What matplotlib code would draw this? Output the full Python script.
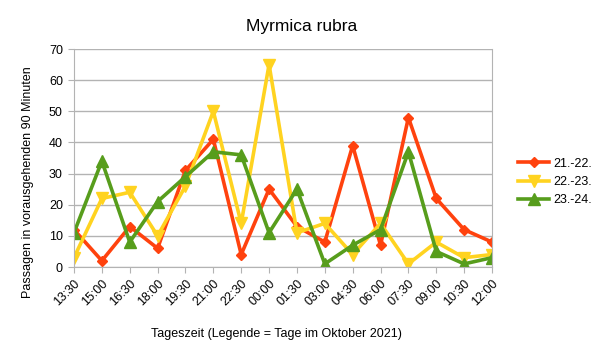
import matplotlib
matplotlib.use("Agg")
import matplotlib.pyplot as plt

plt.rcParams['font.family'] = ['Liberation Sans', 'DejaVu Sans']

categories = ["13:30", "15:00", "16:30", "18:00", "19:30", "21:00", "22:30", "00:00",
              "01:30", "03:00", "04:30", "06:00", "07:30", "09:00", "10:30", "12:00"]
s21 = [12, 2, 13, 6, 31, 41, 4, 25, 13, 8, 39, 7, 48, 22, 12, 8]
s22 = [3, 22, 24, 10, 26, 50, 14, 65, 11, 14, 4, 14, 1, 8, 3, 4]
s23 = [11, 34, 8, 21, 29, 37, 36, 11, 25, 1, 7, 12, 37, 5, 1, 3]
labels = ["21.-22.", "22.-23.", "23.-24."]

fig = plt.figure(figsize=(6.05, 3.61), dpi=100)
ax = fig.add_axes([74/605, 1-267/361, (492-74)/605, (267-49)/361])
x = list(range(len(categories)))
ax.plot(x, s21, color="#ff420e", lw=2.6, marker="D", ms=5.5, label=labels[0])
ax.plot(x, s22, color="#ffd320", lw=2.6, marker="v", ms=8, label=labels[1])
ax.plot(x, s23, color="#579d1c", lw=2.6, marker="^", ms=8, label=labels[2])

ax.set_xlim(0, len(categories)-1)
ax.set_ylim(0, 70)
ax.set_yticks(range(0, 71, 10))
ax.set_xticks(x)
ax.set_xticklabels(categories, rotation=45, ha="right", rotation_mode="anchor")
ax.yaxis.grid(True, color="#b3b3b3", lw=1)
ax.set_axisbelow(True)
for sp in ax.spines.values():
    sp.set_color("#b3b3b3")
ax.spines['top'].set_visible(False)
ax.tick_params(axis='y', length=4, color="#b3b3b3", labelsize=9, pad=4)
ax.tick_params(axis='x', length=4, color="#b3b3b3", labelsize=9)
fig.text(302/605, 1-27/361, "Myrmica rubra", ha="center", va="center", fontsize=12.5)
fig.text(28/605, 1-182/361, "Passagen in vorausgehenden 90 Minuten", rotation=90,
         ha="center", va="center", fontsize=9)
fig.text(276/605, 1-334/361, "Tageszeit (Legende = Tage im Oktober 2021)", ha="center", va="center", fontsize=9)
ax.legend(loc="center left", bbox_to_anchor=(518/605, 1-182/361), bbox_transform=fig.transFigure,
          frameon=False, fontsize=9, handlelength=2.5, handletextpad=0.3,
          borderpad=0, borderaxespad=0, labelspacing=0.5)
fig.savefig("out.png", dpi=100)
